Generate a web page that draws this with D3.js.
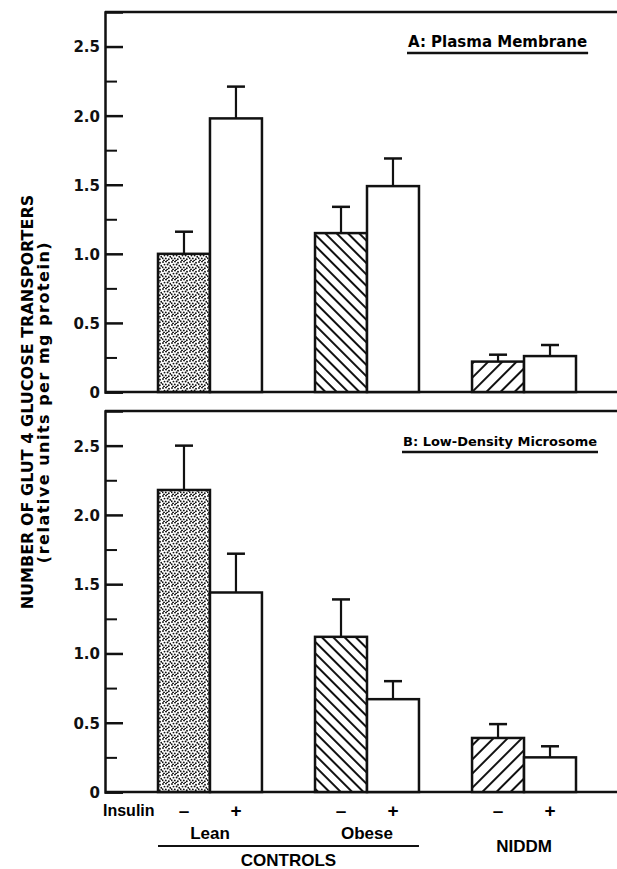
<!DOCTYPE html>
<html>
<head>
<meta charset="utf-8">
<script src="https://cdn.jsdelivr.net/npm/d3@7"></script>
<style>
  body { margin: 0; background: #fff; }
  svg { display: block; font-family: "Liberation Sans", Arial, sans-serif; font-weight: bold; }
  .axis path, .axis line { stroke: #111; }
  .axis text { fill: #111; }
  .dv { font-family: "DejaVu Sans", sans-serif; }
</style>
</head>
<body>
<div id="chart"></div>
<script>
// categories
const groups = ["Lean", "Obese", "NIDDM"];
const insulin = ["\u2013", "+"];
// series values (mean, SE), order: Lean-, Lean+, Obese-, Obese+, NIDDM-, NIDDM+
const pmMean = [1.00, 1.98, 1.15, 1.49, 0.22, 0.26];
const pmErr = [0.16, 0.23, 0.19, 0.20, 0.05, 0.08];
const ldmMean = [2.18, 1.44, 1.12, 0.67, 0.39, 0.25];
const ldmErr = [0.32, 0.28, 0.27, 0.13, 0.10, 0.08];
// tick labels
const majorTicks = [0, 0.5, 1.0, 1.5, 2.0, 2.5];
const minorTicks = [0.25, 0.75, 1.25, 1.75, 2.25];
const panelTitles = ["A: Plasma Membrane", "B: Low-Density Microsome"];

const W = 617, H = 869;
const axisX = 105;
const svg = d3.select("#chart").append("svg")
    .attr("width", W)
    .attr("height", H);

// fill patterns
let defs = svg.append("defs");
let stip = defs.append("pattern")
    .attr("id", "stipple")
    .attr("patternUnits", "userSpaceOnUse")
    .attr("width", 9).attr("height", 9);
stip.append("rect").attr("width", 9).attr("height", 9).attr("fill", "#fff");
[[1, 1], [4, 0.5], [7, 1.8], [2.5, 3.6], [5.6, 3.5], [8.3, 4.8], [0.6, 6.2], [3.8, 6.4], [6.8, 7.2], [2, 8.5], [5.2, 8.8]]
    .forEach(p => stip.append("circle").attr("cx", p[0]).attr("cy", p[1]).attr("r", 0.95).attr("fill", "#111"));

function hatch(id, spacing, angle) {
    let p = defs.append("pattern")
        .attr("id", id)
        .attr("patternUnits", "userSpaceOnUse")
        .attr("width", spacing).attr("height", spacing)
        .attr("patternTransform", `rotate(${angle})`);
    p.append("rect").attr("width", spacing).attr("height", spacing).attr("fill", "#fff");
    p.append("line").attr("x1", 1).attr("x2", 1).attr("y1", 0).attr("y2", spacing)
        .attr("stroke", "#111").attr("stroke-width", 2);
}
hatch("hatchBack", 8, -45);
hatch("hatchFwd", 10, 45);

const fills = ["url(#stipple)", "#fff", "url(#hatchBack)", "#fff", "url(#hatchFwd)", "#fff"];

// x scales
let x = d3.scaleBand().domain(groups).range([158, 576]).paddingInner(0.338).paddingOuter(0);
let xi = d3.scaleBand().domain(insulin).range([0, x.bandwidth()]);

function barX(i) {
    return x(groups[Math.floor(i / 2)]) + xi(insulin[i % 2]);
}

function panel(top, zero, means, errs, title, tx, fs) {
    let y = d3.scaleLinear().domain([0, 2.75]).range([zero, top]);
    let g = svg.append("g");

    // frame top line and baseline
    g.append("line").attr("x1", axisX).attr("x2", W).attr("y1", y(2.75)).attr("y2", y(2.75))
        .attr("stroke", "#111").attr("stroke-width", 2.5);
    g.append("line").attr("x1", axisX).attr("x2", W).attr("y1", y(0)).attr("y2", y(0))
        .attr("stroke", "#111").attr("stroke-width", 2.5);

    // bars
    g.selectAll("rect.bar")
        .data(means)
        .enter().append("rect")
        .attr("class", "bar")
        .attr("x", (d, i) => barX(i))
        .attr("width", xi.bandwidth())
        .attr("y", d => y(d))
        .attr("height", d => y(0) - y(d))
        .attr("fill", (d, i) => fills[i])
        .attr("stroke", "#111")
        .attr("stroke-width", 2.5);

    // error bars (upper only)
    let eb = g.selectAll("g.err")
        .data(means)
        .enter().append("g")
        .attr("class", "err")
        .attr("transform", (d, i) => `translate(${barX(i) + xi.bandwidth() / 2},0)`);
    eb.append("line")
        .attr("y1", d => y(d))
        .attr("y2", (d, i) => y(d + errs[i]))
        .attr("stroke", "#111").attr("stroke-width", 2.2);
    eb.append("line")
        .attr("x1", -9).attr("x2", 9)
        .attr("y1", (d, i) => y(d + errs[i]))
        .attr("y2", (d, i) => y(d + errs[i]))
        .attr("stroke", "#111").attr("stroke-width", 2.5);

    // y axis, ticks point inwards
    let ax = g.append("g")
        .attr("class", "axis")
        .attr("transform", `translate(${axisX},0)`)
        .call(d3.axisLeft(y).tickValues(majorTicks).tickSize(-18).tickPadding(5)
            .tickFormat(d => d === 0 ? "0" : d3.format(".1f")(d)));
    ax.select(".domain").attr("stroke-width", 2.5);
    ax.selectAll(".tick line").attr("stroke-width", 2.5);
    ax.selectAll("text").attr("class", "dv").style("font-size", "15px")
        .attr("dy", "0.36em");

    let minor = g.append("g")
        .attr("class", "axis")
        .attr("transform", `translate(${axisX},0)`)
        .call(d3.axisLeft(y).tickValues(minorTicks).tickSize(-12).tickFormat(""));
    minor.select(".domain").remove();
    minor.selectAll(".tick line").attr("stroke-width", 2);

    // panel title with underline
    let t = g.append("text")
        .attr("class", "dv")
        .attr("x", tx).attr("y", top + 35)
        .style("font-size", fs + "px")
        .text(title);
    let tw = t.node().getComputedTextLength();
    g.append("line")
        .attr("x1", tx - 1).attr("x2", tx + tw + 1)
        .attr("y1", top + 41).attr("y2", top + 41)
        .attr("stroke", "#111").attr("stroke-width", 2.5);
}

panel(12, 392, pmMean, pmErr, panelTitles[0], 408, 15);
panel(411, 792, ldmMean, ldmErr, panelTitles[1], 403, 13);

// x labels
svg.append("text").attr("x", 103).attr("y", 816).style("font-size", "16px").text("Insulin");
svg.selectAll("text.ins")
    .data(d3.range(6))
    .enter().append("text")
    .attr("class", "ins")
    .attr("x", i => barX(i) + xi.bandwidth() / 2)
    .attr("y", 817)
    .attr("text-anchor", "middle")
    .style("font-size", "19px")
    .text(i => insulin[i % 2]);

svg.selectAll("text.grp")
    .data(groups.slice(0, 2))
    .enter().append("text")
    .attr("class", "grp")
    .attr("x", d => x(d) + x.bandwidth() / 2)
    .attr("y", 839)
    .attr("text-anchor", "middle")
    .style("font-size", "17px")
    .text(d => d);

svg.append("line")
    .attr("x1", x("Lean")).attr("x2", x("Obese") + x.bandwidth())
    .attr("y1", 846).attr("y2", 846)
    .attr("stroke", "#111").attr("stroke-width", 2);
svg.append("text")
    .attr("x", (x("Lean") + x("Obese") + x.bandwidth()) / 2).attr("y", 866)
    .attr("text-anchor", "middle").style("font-size", "17px")
    .text("CONTROLS");
svg.append("text")
    .attr("x", x("NIDDM") + x.bandwidth() / 2).attr("y", 852)
    .attr("text-anchor", "middle").style("font-size", "17px")
    .text("NIDDM");

// y axis title
let yt = svg.append("g").attr("transform", "translate(0,402) rotate(-90)");
yt.append("text").attr("class", "dv").attr("x", 0).attr("y", 33).attr("text-anchor", "middle")
    .style("font-size", "16px").text("NUMBER OF GLUT 4 GLUCOSE TRANSPORTERS");
yt.append("text").attr("class", "dv").attr("x", 0).attr("y", 49).attr("text-anchor", "middle")
    .style("font-size", "16px").style("letter-spacing", "1.5px")
    .text("(relative units per mg protein)");
</script>
</body>
</html>
